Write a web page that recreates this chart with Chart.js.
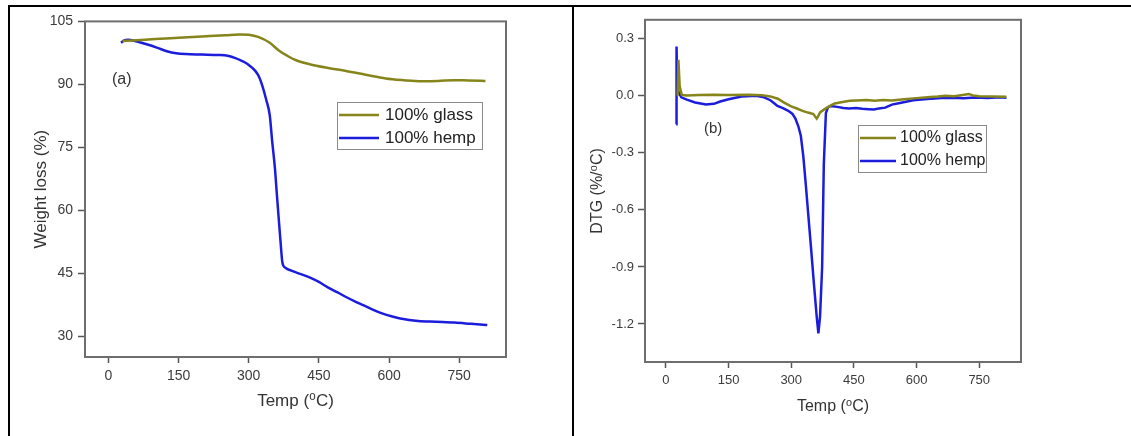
<!DOCTYPE html>
<html>
<head>
<meta charset="utf-8">
<script src="https://cdn.jsdelivr.net/npm/chart.js@4.4.1/dist/chart.umd.min.js"></script>
<style>
  body { margin: 0; background: #fff; width: 1131px; height: 436px; overflow: hidden; position: relative; }
  .rule { position: absolute; background: #000; }
  .cell { position: absolute; }
</style>
</head>
<body>
<div class="rule" style="left:8px;top:5px;width:1123px;height:2px"></div>
<div class="rule" style="left:8px;top:5px;width:2px;height:431px"></div>
<div class="rule" style="left:572px;top:5px;width:2px;height:431px"></div>
<div class="cell" style="left:10px;top:8px;width:555px;height:428px"><canvas id="tga"></canvas></div>
<div class="cell" style="left:575px;top:8px;width:556px;height:428px"><canvas id="dtg"></canvas></div>
<script>
// tick labels
const tempTicks = [0, 150, 300, 450, 600, 750];
const weightTicks = [30, 45, 60, 75, 90, 105];
const dtgTicks = [-1.2, -0.9, -0.6, -0.3, 0, 0.3];

const seriesNames = ['100% glass', '100% hemp'];

// (a) weight loss
const glassTgaT = [30, 60, 100, 150, 200, 250, 280, 300, 320, 345, 365, 384, 400, 430, 470, 508, 550, 593, 631, 670, 705, 740, 770, 806];
const glassTgaW = [100.3, 100.5, 100.8, 101.1, 101.4, 101.7, 101.9, 101.8, 101.3, 99.9, 98.0, 96.7, 95.8, 94.8, 93.9, 93.2, 92.3, 91.4, 91.0, 90.75, 90.8, 91.0, 90.9, 90.8];

const hempTgaT = [27, 33, 42, 55, 80, 105, 125, 145, 165, 200, 236, 255, 270, 285, 298, 314, 322, 329, 337, 345, 350, 356, 360, 364, 368, 372, 378, 391, 410, 430, 450, 469, 490, 508, 530, 546, 565, 585, 605, 624, 662, 700, 740, 775, 810];
const hempTgaW = [99.9, 100.4, 100.6, 100.4, 99.6, 98.7, 97.9, 97.4, 97.2, 97.1, 97.0, 96.8, 96.3, 95.6, 94.8, 93.2, 91.8, 89.7, 86.5, 82.6, 76.6, 70.0, 64.0, 58.2, 52.5, 47.5, 46.3, 45.6, 44.8, 44.0, 42.9, 41.6, 40.4, 39.3, 38.1, 37.3, 36.3, 35.4, 34.7, 34.2, 33.6, 33.4, 33.2, 32.9, 32.6];

// (b) DTG
const glassDtgT = [28, 30, 33, 38, 50, 80, 113, 150, 200, 230, 250, 268, 284, 300, 315, 327, 340, 353, 361, 364, 369, 380, 395, 404, 420, 440, 455, 480, 500, 520, 541, 570, 600, 626, 650, 669, 690, 710, 725, 735, 750, 780, 815];
const glassDtgV = [0.0, 0.19, 0.05, 0.005, 0.002, 0.004, 0.006, 0.005, 0.006, 0.003, -0.003, -0.015, -0.037, -0.055, -0.068, -0.079, -0.088, -0.096, -0.12, -0.11, -0.087, -0.07, -0.05, -0.04, -0.034, -0.026, -0.024, -0.022, -0.026, -0.022, -0.024, -0.018, -0.012, -0.007, -0.004, 0.0, -0.002, 0.004, 0.01, 0.002, -0.002, -0.004, -0.005];

const hempDtgT = [24.5, 25.5, 27, 31, 37, 50, 70, 96, 115, 130, 150, 181, 216, 235, 250, 260, 267, 280, 293, 303, 310, 317, 323, 329, 335, 341, 348, 354, 361, 365, 369, 374, 378, 383, 388, 395, 410, 425, 438, 455, 470, 485, 498, 510, 525, 541, 560, 592, 625, 660, 690, 712, 740, 770, 800, 815];
const hempDtgV = [-0.15, 0.26, 0.05, 0.015, -0.008, -0.02, -0.035, -0.046, -0.042, -0.03, -0.018, -0.003, 0.0, -0.008, -0.023, -0.04, -0.053, -0.065, -0.079, -0.095, -0.12, -0.16, -0.21, -0.32, -0.47, -0.63, -0.816, -0.98, -1.162, -1.25, -1.16, -0.90, -0.36, -0.09, -0.06, -0.053, -0.058, -0.064, -0.066, -0.064, -0.068, -0.07, -0.072, -0.066, -0.062, -0.046, -0.038, -0.023, -0.016, -0.012, -0.01, -0.012, -0.009, -0.011, -0.008, -0.01];

const GLASS = '#85851c';
const HEMP = '#1c1cdc';

Chart.defaults.font.family = "'Liberation Sans', Arial, 'DejaVu Sans', sans-serif";
Chart.defaults.animation = false;

const pts = (xs, ys) => xs.map((x, i) => ({ x: x, y: ys[i] }));

// plot frame, panel tag and boxed legend
const decor = {
    id: 'decor',
    afterDatasetsDraw(chart, args, o) {
        const ctx = chart.ctx, a = chart.chartArea;
        ctx.save();
        ctx.strokeStyle = '#6e6e6e';
        ctx.lineWidth = 2;
        ctx.strokeRect(a.left, a.top, a.right - a.left, a.bottom - a.top);

        ctx.textBaseline = 'middle';
        ctx.fillStyle = '#333';
        ctx.font = o.tagSize + "px 'Liberation Sans', Arial, sans-serif";
        ctx.fillText(o.tag, o.tagX, o.tagY);

        const L = o.legend;
        ctx.fillStyle = '#fff';
        ctx.fillRect(L.x, L.y, L.w, L.h);
        ctx.strokeStyle = '#8a8a8a';
        ctx.lineWidth = 1;
        ctx.strokeRect(L.x + 0.5, L.y + 0.5, L.w, L.h);
        ctx.font = L.size + "px 'Liberation Sans', Arial, sans-serif";
        chart.data.datasets.forEach((ds, i) => {
            const y = L.y + L.row0 + i * L.gap;
            ctx.strokeStyle = ds.borderColor;
            ctx.lineWidth = 2.5;
            ctx.beginPath();
            ctx.moveTo(L.x + 2, y);
            ctx.lineTo(L.x + 2 + L.sample, y);
            ctx.stroke();
            ctx.fillStyle = '#222';
            ctx.fillText(ds.label, L.x + L.textX, y);
        });
        ctx.restore();
    }
};

function axes(o) {
    return {
        x: {
            type: 'linear', min: -50, max: 850,
            afterBuildTicks: s => { s.ticks = tempTicks.map(v => ({ value: v })); },
            afterFit: s => { s.height = o.xh; },
            border: { display: false },
            grid: { drawOnChartArea: false, tickLength: 6, tickColor: '#555', tickWidth: 1.5 },
            ticks: { padding: 5, color: '#3c3c3c', font: { size: o.tick }, maxRotation: 0, autoSkip: false },
            title: { display: true, text: 'Temp (⁰C)', color: '#333', font: { size: o.title }, padding: { top: 4, bottom: 4 } }
        },
        y: {
            type: 'linear', min: o.ymin, max: o.ymax,
            afterBuildTicks: s => { s.ticks = o.yticks.map(v => ({ value: v })); },
            afterFit: s => { s.width = o.yw; },
            border: { display: false },
            grid: { drawOnChartArea: false, tickLength: 7, tickColor: '#555', tickWidth: 1.5 },
            ticks: { padding: o.ypad, color: '#3c3c3c', font: { size: o.tick }, autoSkip: false, callback: o.fmt },
            title: { display: true, text: o.ytitle, color: '#333', font: { size: o.title }, padding: { top: 4, bottom: 4 } }
        }
    };
}

function lineSet(label, color, data, smooth) {
    return {
        label: label, data: data, borderColor: color, backgroundColor: color,
        borderWidth: 2.5, pointRadius: 0, fill: false,
        cubicInterpolationMode: smooth ? 'monotone' : 'default', tension: 0
    };
}

const tgaChart = new Chart(document.getElementById('tga'), {
    type: 'line',
    data: {
        datasets: [
            lineSet(seriesNames[0], GLASS, pts(glassTgaT, glassTgaW), true),
            lineSet(seriesNames[1], HEMP, pts(hempTgaT, hempTgaW), true)
        ]
    },
    options: {
        responsive: true, maintainAspectRatio: false,
        layout: { padding: { left: 17, top: 10, right: 59, bottom: 20 } },
        scales: axes({ xh: 59, yw: 58, ypad: 5, tick: 14, title: 17, ymin: 25, ymax: 105, yticks: weightTicks, ytitle: 'Weight loss (%)', fmt: v => String(v) }),
        plugins: {
            legend: { display: false },
            tooltip: { enabled: false },
            decor: { tag: '(a)', tagX: 102, tagY: 72, tagSize: 16,
                legend: { x: 327, y: 94, w: 145, h: 47, row0: 13, gap: 23, sample: 40, textX: 48, size: 17 } }
        }
    },
    plugins: [decor]
});

const dtgChart = new Chart(document.getElementById('dtg'), {
    type: 'line',
    data: {
        datasets: [
            lineSet(seriesNames[0], GLASS, pts(glassDtgT, glassDtgV), false),
            lineSet(seriesNames[1], HEMP, pts(hempDtgT, hempDtgV), false)
        ]
    },
    options: {
        responsive: true, maintainAspectRatio: false,
        layout: { padding: { left: 9, top: 8, right: 110, bottom: 16 } },
        scales: axes({ xh: 58, yw: 61, ypad: 4, tick: 13, title: 16, ymin: -1.4, ymax: 0.4, yticks: dtgTicks, ytitle: 'DTG (%/⁰C)', fmt: v => v.toFixed(1) }),
        plugins: {
            legend: { display: false },
            tooltip: { enabled: false },
            decor: { tag: '(b)', tagX: 129, tagY: 121, tagSize: 15,
                legend: { x: 283, y: 117, w: 128, h: 47, row0: 13, gap: 23, sample: 36, textX: 42, size: 16 } }
        }
    },
    plugins: [decor]
});
</script>
</body>
</html>
